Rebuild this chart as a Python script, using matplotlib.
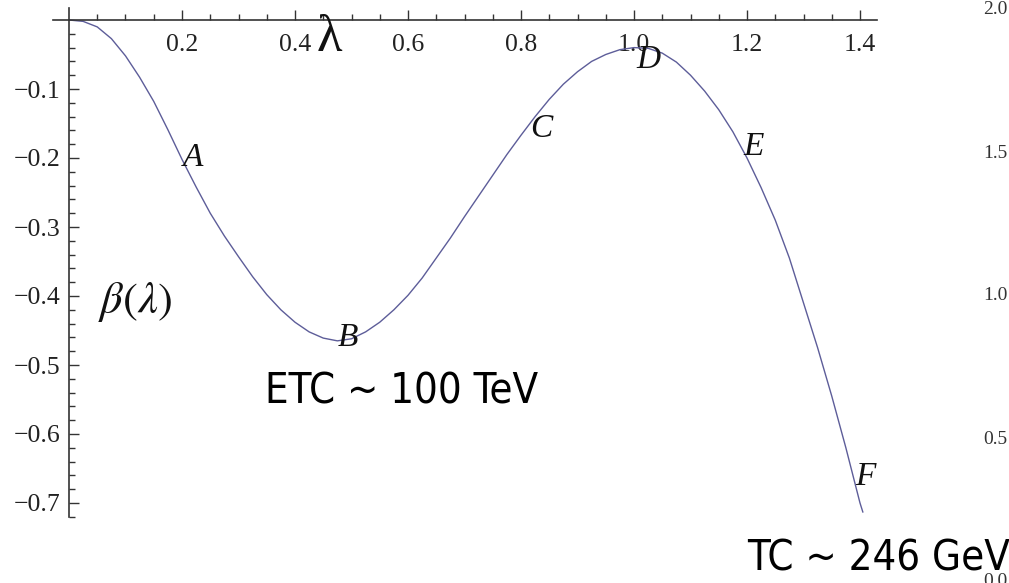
import numpy as np
import matplotlib.pyplot as plt
from matplotlib import font_manager
from matplotlib.ticker import FixedLocator, FuncFormatter

plt.rcParams['mathtext.fontset'] = 'stix'

lam = [0.000, 0.025, 0.050, 0.075, 0.100, 0.125, 0.150, 0.175, 0.200, 0.225,
       0.250, 0.275, 0.300, 0.325, 0.350, 0.375, 0.400, 0.425, 0.450, 0.475,
       0.500, 0.525, 0.550, 0.575, 0.600, 0.625, 0.650, 0.675, 0.700, 0.725,
       0.750, 0.775, 0.800, 0.825, 0.850, 0.875, 0.900, 0.925, 0.950, 0.975,
       1.000, 1.025, 1.050, 1.075, 1.100, 1.125, 1.150, 1.175, 1.200, 1.225,
       1.250, 1.275, 1.300, 1.325, 1.350, 1.375, 1.400, 1.405]
beta = [0.000, -0.002, -0.010, -0.027, -0.052, -0.083, -0.118, -0.159, -0.202, -0.242,
        -0.280, -0.313, -0.343, -0.372, -0.398, -0.420, -0.438, -0.452, -0.461, -0.465,
        -0.462, -0.452, -0.438, -0.420, -0.399, -0.374, -0.345, -0.316, -0.285, -0.255,
        -0.225, -0.195, -0.167, -0.140, -0.115, -0.093, -0.075, -0.060, -0.050, -0.043,
        -0.040, -0.041, -0.048, -0.061, -0.080, -0.103, -0.130, -0.162, -0.200, -0.243,
        -0.290, -0.345, -0.410, -0.475, -0.545, -0.620, -0.700, -0.713]

# labelled points on the curve
pt_names = ['A', 'B', 'C', 'D', 'E', 'F']
pt_lam = [0.219, 0.494, 0.835, 1.025, 1.212, 1.409]
pt_beta = [-0.200, -0.461, -0.157, -0.057, -0.184, -0.662]

xticks = [0.2, 0.4, 0.6, 0.8, 1.0, 1.2, 1.4]
yticks = [-0.1, -0.2, -0.3, -0.4, -0.5, -0.6, -0.7]
side_ticks = [0.0, 0.5, 1.0, 1.5, 2.0]


def fmt(v, pos):
    return ('%.1f' % v).replace('-', '\u2212')


# a narrow sans for the two energy-scale captions, if one is around
cap_font = dict(family='Liberation Sans', size=26)
for fam, stretch in [('Liberation Sans Narrow', 'normal'), ('DejaVu Sans', 'condensed'),
                     ('Noto Sans', 'condensed'), ('Open Sans', 'condensed')]:
    fp = font_manager.FontProperties(family=fam, stretch=stretch)
    try:
        path = font_manager.findfont(fp, fallback_to_default=False)
    except ValueError:
        continue
    if 'Narrow' in path or 'ondensed' in path:
        cap_font = dict(family=fam, stretch=stretch, size=30)
        break

fig = plt.figure(figsize=(10.09, 5.83), dpi=100)
ax = fig.add_axes([0, 0, 1, 1])
ax.set_xlim(-69 / 565, 940 / 565)
ax.set_ylim(-563 / 690, 20 / 690)

ax.plot(lam, beta, color='#5d5d99', lw=1.0)

# axes crossing at the origin, mathematica style
for s in ['right', 'top']:
    ax.spines[s].set_visible(False)
ax.spines['bottom'].set_position(('data', 0))
ax.spines['left'].set_position(('data', 0))
ax.spines['bottom'].set_bounds(-0.028, 1.43)
ax.spines['left'].set_bounds(-0.72, 0.017)
for s in ['bottom', 'left']:
    ax.spines[s].set_color('#333333')
    ax.spines[s].set_linewidth(1.2)

ax.xaxis.set_major_locator(FixedLocator(xticks))
ax.xaxis.set_minor_locator(FixedLocator(np.arange(1, 29) * 0.05))
ax.yaxis.set_major_locator(FixedLocator(yticks))
ax.yaxis.set_minor_locator(FixedLocator(-np.arange(1, 37) * 0.02))
ax.xaxis.set_major_formatter(FuncFormatter(fmt))
ax.yaxis.set_major_formatter(FuncFormatter(fmt))
ax.tick_params(which='both', direction='in', color='#333333', width=1.0,
               labelsize=18.5, labelcolor='#222222')
ax.tick_params(which='major', length=7.5)
ax.tick_params(which='minor', length=4.5)
ax.tick_params(axis='x', which='major', pad=10)
ax.tick_params(axis='y', which='major', pad=6)
for t in ax.get_xticklabels() + ax.get_yticklabels():
    t.set_family('Liberation Serif')

for name, x, y in zip(pt_names, pt_lam, pt_beta):
    ax.text(x, y, name, family='Liberation Serif', style='italic', fontsize=24,
            ha='center', va='center', color='#111111')

ax.text(0.46, -0.026, 'λ', family='Liberation Serif', fontsize=38,
        ha='center', va='center', color='#111111')
ax.text(0.117, -0.409, r'$\beta(\lambda)$', fontsize=32,
        ha='center', va='center', color='#111111')

ax.text(0.588, -0.538, 'ETC ~ 100 TeV', fontdict=cap_font,
        ha='center', va='center', color='black')
ax.text(1.432, -0.780, 'TC ~ 246 GeV', fontdict=cap_font,
        ha='center', va='center', color='black')

# tick labels of the neighbouring panel on the right
ax2 = fig.add_axes([1012 / 1009, 3 / 583, 0.05, 572 / 583])
ax2.set_ylim(0, 2)
ax2.set_xticks([])
ax2.yaxis.set_major_locator(FixedLocator(side_ticks))
ax2.yaxis.set_major_formatter(FuncFormatter(fmt))
ax2.tick_params(axis='y', length=0, pad=3, labelsize=14, labelcolor='#333333')
for t in ax2.get_yticklabels():
    t.set_family('Liberation Serif')
for s in ax2.spines.values():
    s.set_visible(False)
ax2.patch.set_alpha(0)

fig.savefig('out.png', dpi=100)
